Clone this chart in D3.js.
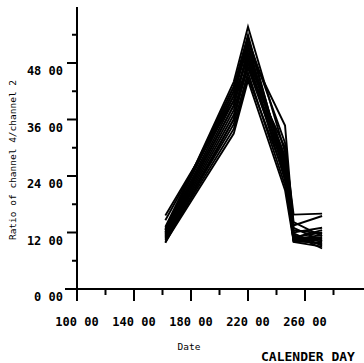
<!DOCTYPE html>
<html>
<head>
<meta charset="utf-8">
<script src="https://cdn.jsdelivr.net/npm/d3@7"></script>
<style>
	body { margin: 0; background: #fff; }
	svg { display: block; }
	text { font-family: "DejaVu Sans Mono", monospace; fill: #000; }
</style>
</head>
<body>
<div id="chart-area"></div>
<script>

// sampling days (calender day) and ratio values
let days = [162, 210, 220, 246, 252, 272];

let ratios = [
	[15.6, 40, 47, 30, 15.8, 16.0],
	[14.6, 41, 49, 28, 13.5, 15.5],
	[13.2, 43, 51, 27, 12.0, 13.0],
	[12.8, 42, 53, 26, 11.0, 12.0],
	[12.5, 44, 55.7, 29, 10.5, 11.5],
	[12.2, 43, 54, 25, 10.8, 11.0],
	[12.0, 41, 52, 24, 10.2, 10.5],
	[11.8, 40, 50, 27, 11.2, 10.0],
	[11.5, 39, 50, 28, 10.6, 9.5],
	[11.2, 38, 48, 26, 10.0, 9.0],
	[11.0, 37, 47, 25, 11.5, 8.6],
	[10.8, 36, 49, 23, 10.4, 10.8],
	[10.5, 35, 46, 22, 10.9, 12.5],
	[10.3, 34, 45, 24, 12.5, 11.8],
	[10.0, 33, 44.3, 21, 10.1, 9.8],
	[9.8, 36, 48, 26, 11.8, 9.2],
	[11.6, 39, 51, 34.7, 13.0, 10.2],
	[12.6, 42, 53, 31, 14.2, 11.2]
];

// axis ticks
let xMajor = [100, 140, 180, 220, 260];
let xMinor = [120, 160, 200, 240, 280];
let yMajor = [0, 12, 24, 36, 48];
let yMinor = [6, 18, 30, 42, 54];

let width = 364, height = 363;

let svg = d3.select("#chart-area").append("svg")
	.attr("width", width)
	.attr("height", height);

let x = d3.scaleLinear().domain([100, 280]).range([77, 333.5]);
let y = d3.scaleLinear().domain([0, 60]).range([289, 6.5]);

// axis lines
svg.append("line")
	.attr("x1", x(100)).attr("x2", x(100))
	.attr("y1", 7).attr("y2", 301)
	.attr("stroke", "#000").attr("stroke-width", 2);

svg.append("line")
	.attr("x1", 65).attr("x2", 364)
	.attr("y1", y(0)).attr("y2", y(0))
	.attr("stroke", "#000").attr("stroke-width", 2);

// x ticks
svg.selectAll(".x-major")
	.data(xMajor)
	.enter().append("line")
	.attr("x1", d => x(d)).attr("x2", d => x(d))
	.attr("y1", y(0)).attr("y2", y(0) + 12)
	.attr("stroke", "#000").attr("stroke-width", 2);

svg.selectAll(".x-minor")
	.data(xMinor)
	.enter().append("line")
	.attr("x1", d => x(d)).attr("x2", d => x(d))
	.attr("y1", y(0)).attr("y2", y(0) + 6)
	.attr("stroke", "#000").attr("stroke-width", 2);

svg.selectAll(".x-label")
	.data(xMajor)
	.enter().append("text")
	.attr("x", d => x(d))
	.attr("y", 326)
	.attr("text-anchor", "middle")
	.attr("font-size", 12)
	.attr("font-weight", "bold")
	.text(d => d + " 00");

// y ticks
svg.selectAll(".y-major")
	.data(yMajor)
	.enter().append("line")
	.attr("x1", x(100) - 10).attr("x2", x(100))
	.attr("y1", d => y(d)).attr("y2", d => y(d))
	.attr("stroke", "#000").attr("stroke-width", 2);

svg.selectAll(".y-minor")
	.data(yMinor)
	.enter().append("line")
	.attr("x1", x(100) - 5).attr("x2", x(100))
	.attr("y1", d => y(d)).attr("y2", d => y(d))
	.attr("stroke", "#000").attr("stroke-width", 2);

svg.selectAll(".y-label")
	.data(yMajor)
	.enter().append("text")
	.attr("x", 63)
	.attr("y", d => y(d) + 12)
	.attr("text-anchor", "end")
	.attr("font-size", 12)
	.attr("font-weight", "bold")
	.text(d => d + " 00");

// axis titles
svg.append("text")
	.attr("transform", "translate(16,160) rotate(-90)")
	.attr("text-anchor", "middle")
	.attr("font-size", 9.5)
	.text("Ratio of channel 4/channel 2");

svg.append("text")
	.attr("x", 189).attr("y", 350)
	.attr("text-anchor", "middle")
	.attr("font-size", 9.5)
	.text("Date");

svg.append("text")
	.attr("x", 308).attr("y", 361)
	.attr("text-anchor", "middle")
	.attr("font-size", 13)
	.attr("font-weight", "bold")
	.text("CALENDER DAY");

// data lines
let line = d3.line()
	.x((d, i) => x(days[i]))
	.y(d => y(d));

svg.selectAll(".line")
	.data(ratios)
	.enter().append("path")
	.attr("class", "line")
	.attr("fill", "none")
	.attr("stroke", "#000")
	.attr("stroke-width", 1.9)
	.attr("d", d => line(d));

</script>
</body>
</html>
